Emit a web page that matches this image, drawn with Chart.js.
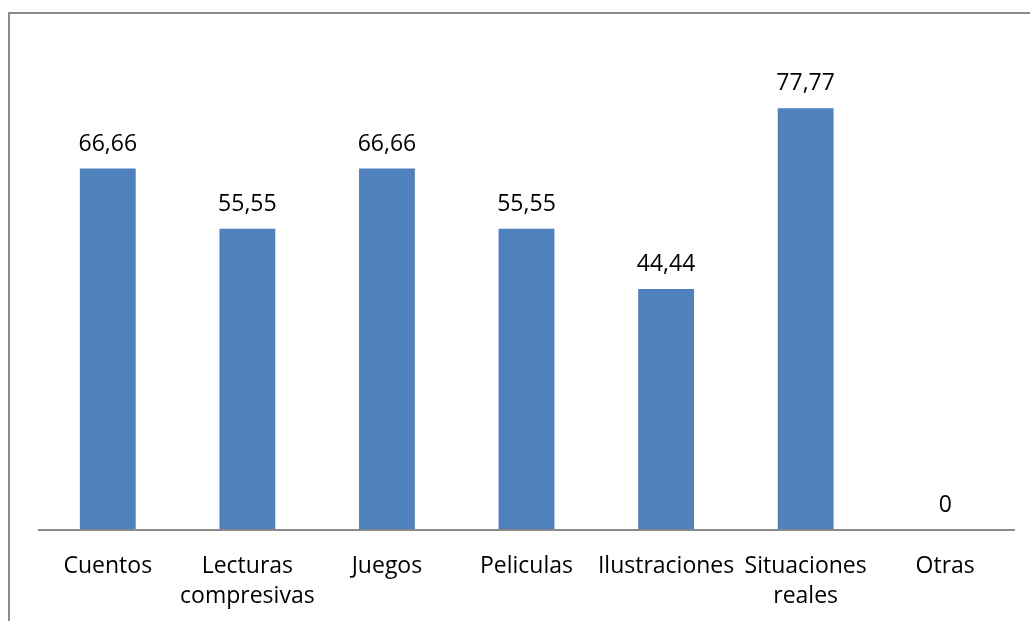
<!DOCTYPE html>
<html>
<head>
<meta charset="utf-8">
<script src="https://cdn.jsdelivr.net/npm/chart.js@4.4.1/dist/chart.umd.min.js"></script>
<style>
  html, body { margin: 0; padding: 0; background: #fff; overflow: hidden; }
  #wrap { position: relative; width: 1030px; height: 621px; }
  #frame { position: absolute; left: 8px; top: 12px; width: 2000px; height: 2000px;
           border-left: 2px solid #8a8a8a; border-top: 2px solid #8a8a8a; box-sizing: border-box; }
  canvas { position: absolute; left: 0; top: 0; }
</style>
</head>
<body>
<div id="wrap">
  <div id="frame"></div>
  <canvas id="c" width="1030" height="621"></canvas>
</div>
<script>
const categories = [
  "Cuentos",
  ["Lecturas", "compresivas"],
  "Juegos",
  "Peliculas",
  "Ilustraciones",
  ["Situaciones", "reales"],
  "Otras"
];
const values = [66.66, 55.55, 66.66, 55.55, 44.44, 77.77, 0];
const valueLabels = ["66,66", "55,55", "66,66", "55,55", "44,44", "77,77", "0"];
const yMin = 0;
const yMax = 90;

const FONT = "'Open Sans', sans-serif";

const valueLabelPlugin = {
  id: 'valueLabels',
  afterDatasetsDraw(chart) {
    const ctx = chart.ctx;
    const meta = chart.getDatasetMeta(0);
    const n = meta.data.length;
    const step = (meta.data[n - 1].x - meta.data[0].x) / (n - 1);
    const x1 = meta.data[0].x - step / 2;
    const x2 = meta.data[n - 1].x + step / 2;
    const y0 = chart.scales.y.getPixelForValue(0);
    ctx.save();
    ctx.strokeStyle = '#8a8a8a';
    ctx.lineWidth = 2;
    ctx.beginPath();
    ctx.moveTo(x1, y0);
    ctx.lineTo(x2, y0);
    ctx.stroke();
    ctx.font = "23px " + FONT;
    ctx.fillStyle = "#000";
    ctx.textAlign = "center";
    ctx.textBaseline = "alphabetic";
    meta.data.forEach((bar, i) => {
      ctx.fillText(valueLabels[i], bar.x, bar.y - 18);
    });
    ctx.restore();
  }
};

new Chart(document.getElementById('c'), {
  type: 'bar',
  data: {
    labels: categories,
    datasets: [{
      data: values,
      backgroundColor: '#4F81BD',
      borderWidth: 0,
      categoryPercentage: 1.0,
      barPercentage: 0.4
    }]
  },
  options: {
    responsive: false,
    animation: false,
    devicePixelRatio: 1,
    layout: { padding: { left: 38, right: 15, top: 42, bottom: 0 } },
    plugins: { legend: { display: false }, tooltip: { enabled: false } },
    scales: {
      x: {
        grid: { display: false, drawTicks: false },
        border: { display: false },
        ticks: {
          color: '#000',
          font: { family: FONT, size: 23, lineHeight: 1.3 },
          padding: 22,
          maxRotation: 0,
          autoSkip: false
        },
        afterFit(scale) { scale.height = 91; }
      },
      y: {
        display: false,
        min: yMin,
        max: yMax
      }
    }
  },
  plugins: [valueLabelPlugin]
});
</script>
</body>
</html>
